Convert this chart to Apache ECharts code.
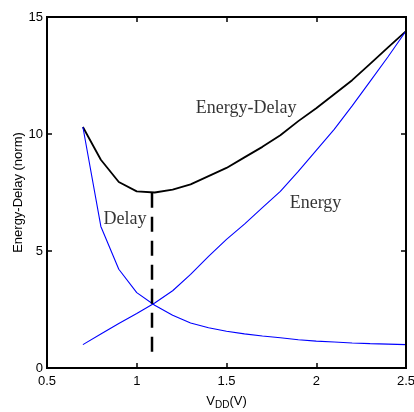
<!DOCTYPE html>
<html>
<head>
<meta charset="utf-8">
<script src="https://cdn.jsdelivr.net/npm/echarts@6/dist/echarts.min.js"></script>
<style>
html,body{margin:0;padding:0;background:#fff;overflow:hidden;}
#chart{width:414px;height:412px;}
</style>
</head>
<body>
<div id="chart"></div>
<script>
// ---- data ----
const vdd = [0.7, 0.8, 0.9, 1.0, 1.1, 1.2, 1.3, 1.4, 1.5, 1.6, 1.7, 1.8, 1.9, 2.0, 2.1, 2.2, 2.3, 2.4, 2.5];
const energyDelay = [10.3, 8.9, 7.95, 7.55, 7.5, 7.62, 7.85, 8.2, 8.55, 9.0, 9.45, 9.95, 10.55, 11.1, 11.7, 12.3, 13.0, 13.7, 14.4];
const energy = [1.0, 1.45, 1.9, 2.33, 2.78, 3.3, 4.0, 4.77, 5.5, 6.15, 6.85, 7.55, 8.4, 9.3, 10.2, 11.2, 12.25, 13.3, 14.4];
const delay = [10.3, 6.05, 4.22, 3.22, 2.68, 2.25, 1.92, 1.72, 1.57, 1.46, 1.37, 1.29, 1.21, 1.15, 1.11, 1.07, 1.04, 1.02, 1.0];
const optimumVdd = [1.085, 1.085];
const optimumSpan = [7.49, 0.48];
const xTicks = [0.5, 1, 1.5, 2, 2.5];
const yTicks = [0, 5, 10, 15];
const curveNames = ['Energy-Delay', 'Energy', 'Delay'];
// in-plot annotation anchors (data coordinates)
const annotations = [[1.609, 11.1, 'Energy-Delay'], [0.935, 6.37, 'Delay'], [1.996, 7.05, 'Energy']];

const pair = (xs, ys) => xs.map((x, i) => [x, ys[i]]);
const sans = 'Liberation Sans, Arial, sans-serif';
const serif = 'Liberation Serif, Times New Roman, serif';
const xMin = xTicks[0], xMax = xTicks[xTicks.length - 1];
const yMin = yTicks[0], yMax = yTicks[yTicks.length - 1];

const chart = echarts.init(document.getElementById('chart'), null, {renderer: 'canvas'});
const mkLine = () => ({show: true, onZero: false, lineStyle: {color: '#000', width: 2}});
const mkTick = () => ({show: true, inside: true, length: 5, lineStyle: {color: '#000', width: 1.5}});
chart.setOption({
  animation: false,
  backgroundColor: '#fff',
  grid: {left: 47, right: 8, top: 17, bottom: 44, containLabel: false, outerBoundsMode: 'none',
    show: true, borderColor: '#000', borderWidth: 2, backgroundColor: 'rgba(0,0,0,0)'},
  xAxis: [{
    type: 'value', gridIndex: 0, min: xMin, max: xMax, interval: 0.5,
    axisLine: mkLine(), axisTick: mkTick(), splitLine: {show: false},
    axisLabel: {color: '#000', fontFamily: sans, fontSize: 13, margin: 7,
      formatter: v => String(v)},
    name: '{a|V}{b|DD}{a|(V)}', nameLocation: 'middle', nameGap: 24, nameMoveOverlap: false,
    nameTextStyle: {rich: {
      a: {fontFamily: sans, fontSize: 13, color: '#000'},
      b: {fontFamily: sans, fontSize: 10, color: '#000', padding: [8, 0, 0, 0]}
    }}
  }, {
    type: 'value', gridIndex: 0, position: 'top', show: true, min: xMin, max: xMax, interval: 0.5,
    axisLine: mkLine(), axisTick: mkTick(), axisLabel: {show: false}, splitLine: {show: false}
  }],
  yAxis: [{
    type: 'value', gridIndex: 0, min: yMin, max: yMax, interval: 5,
    axisLine: mkLine(), axisTick: mkTick(), splitLine: {show: false},
    axisLabel: {color: '#000', fontFamily: sans, fontSize: 13, margin: 4},
    name: 'Energy-Delay (norm)', nameLocation: 'middle', nameGap: 22, nameRotate: 90, nameMoveOverlap: false,
    nameTextStyle: {fontFamily: sans, fontSize: 13, color: '#000'}
  }, {
    type: 'value', gridIndex: 0, position: 'right', show: true, min: yMin, max: yMax, interval: 5,
    axisLine: mkLine(), axisTick: mkTick(), axisLabel: {show: false}, splitLine: {show: false}
  }],
  series: [{
    name: curveNames[0], type: 'line', data: pair(vdd, energyDelay), showSymbol: false,
    lineStyle: {color: '#000', width: 1.8}, z: 3
  }, {
    name: curveNames[1], type: 'line', data: pair(vdd, energy), showSymbol: false,
    lineStyle: {color: '#0000ff', width: 1.1}
  }, {
    name: curveNames[2], type: 'line', data: pair(vdd, delay), showSymbol: false,
    lineStyle: {color: '#0000ff', width: 1.1}
  }, {
    name: 'optimum', type: 'line', data: pair(optimumVdd, optimumSpan), showSymbol: false,
    lineStyle: {color: '#000', width: 2.5, type: [15, 9]}, z: 4
  }, {
    name: 'labels', type: 'scatter', data: annotations, symbolSize: 0, silent: true,
    label: {show: true, position: 'inside', formatter: p => p.data[2],
      fontFamily: serif, fontSize: 18, color: '#000'}
  }]
});
// frame of the plot box, derived from the axes' own scale
const tl = chart.convertToPixel({gridIndex: 0}, [xMin, yMax]);
const br = chart.convertToPixel({gridIndex: 0}, [xMax, yMin]);
chart.setOption({graphic: [{
  type: 'rect', silent: true, z: 10,
  shape: {x: tl[0], y: tl[1], width: br[0] - tl[0], height: br[1] - tl[1]},
  style: {fill: 'none', stroke: '#000', lineWidth: 2}
}]});
</script>
</body>
</html>
